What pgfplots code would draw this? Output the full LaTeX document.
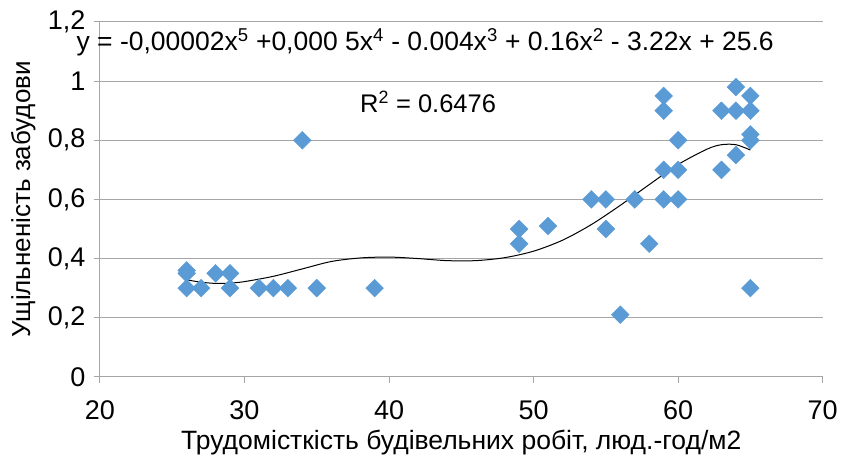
\documentclass[border=0pt]{standalone}
\usepackage{pgfplots}
\pgfplotsset{compat=1.18}
\usepackage{fontspec}
\setmainfont{Liberation Sans}
\definecolor{ptblue}{RGB}{91,155,213}
\definecolor{gridgray}{RGB}{166,166,166}

\begin{document}
\begin{tikzpicture}
\begin{axis}[
    scale only axis,
    width=723pt, height=355pt,
    xmin=20, xmax=70, ymin=0, ymax=1.2,
    xtick={20,30,...,70},
    ytick={0,0.2,0.4,0.6,0.8,1,1.2},
    yticklabels={0,{0,2},{0,4},{0,6},{0,8},1,{1,2}},
    axis x line=bottom, axis y line=left,
    axis line style={gridgray, line width=1pt, -},
    ymajorgrids, grid style={gridgray, line width=1pt},
    tick align=outside, major tick length=6pt,
    tick style={gridgray, line width=1pt},
    /pgf/number format/assume math mode=true,
    ticklabel style={font=\fontsize{27}{31}\selectfont},
    xticklabel style={yshift=-14pt},
    yticklabel style={xshift=-5pt},
    xlabel={Трудомісткість будівельних робіт, люд.-год/м2},
    ylabel={Ущільненість забудови},
    xlabel style={font=\fontsize{26.5}{30}\selectfont,
        at={(axis description cs:0.5,-0.186)}, anchor=center},
    ylabel style={font=\fontsize{26}{30}\selectfont,
        at={(axis description cs:-0.106,0.5)}, anchor=center},
    clip=false,
]
% observed points
\addplot[only marks, mark=square*, mark size=6.3pt, color=ptblue,
    mark options={rotate=45, draw=none, fill=ptblue}]
table {
26 0.36
26 0.35
26 0.30
27 0.30
28 0.35
29 0.35
29 0.30
31 0.30
32 0.30
33 0.30
34 0.80
35 0.30
39 0.30
49 0.50
49 0.45
51 0.51
54 0.60
55 0.60
55 0.50
56 0.21
57 0.60
58 0.45
59 0.95
59 0.90
59 0.70
59 0.60
60 0.80
60 0.70
60 0.60
63 0.90
63 0.70
64 0.98
64 0.90
64 0.75
65 0.95
65 0.90
65 0.82
65 0.80
65 0.30
};
% polynomial trend line
\addplot[black, line width=1pt, smooth, no marks]
table {
26 0.328
27 0.320
28 0.316
29 0.317
30 0.322
32 0.340
34 0.365
36 0.390
38 0.402
40 0.405
42 0.400
44 0.393
46 0.393
48 0.403
50 0.425
52 0.462
54 0.515
56 0.580
58 0.650
60 0.718
62 0.770
63 0.785
64 0.785
65 0.767
};
\node[font=\fontsize{26.5}{30}\selectfont] at (axis cs:42.5,1.13)
  {y = -0,00002x\textsuperscript{5} +0,000 5x\textsuperscript{4} - 0.004x\textsuperscript{3} + 0.16x\textsuperscript{2} - 3.22x + 25.6};
\node[font=\fontsize{25.5}{29}\selectfont] at (axis cs:42.7,0.93) {R\textsuperscript{2} = 0.6476};
% page margins as in the reference
\path (rel axis cs:0,0) ++(-100pt,-85pt) (rel axis cs:1,1) ++(18pt,22pt);
\end{axis}
\end{tikzpicture}
\end{document}
